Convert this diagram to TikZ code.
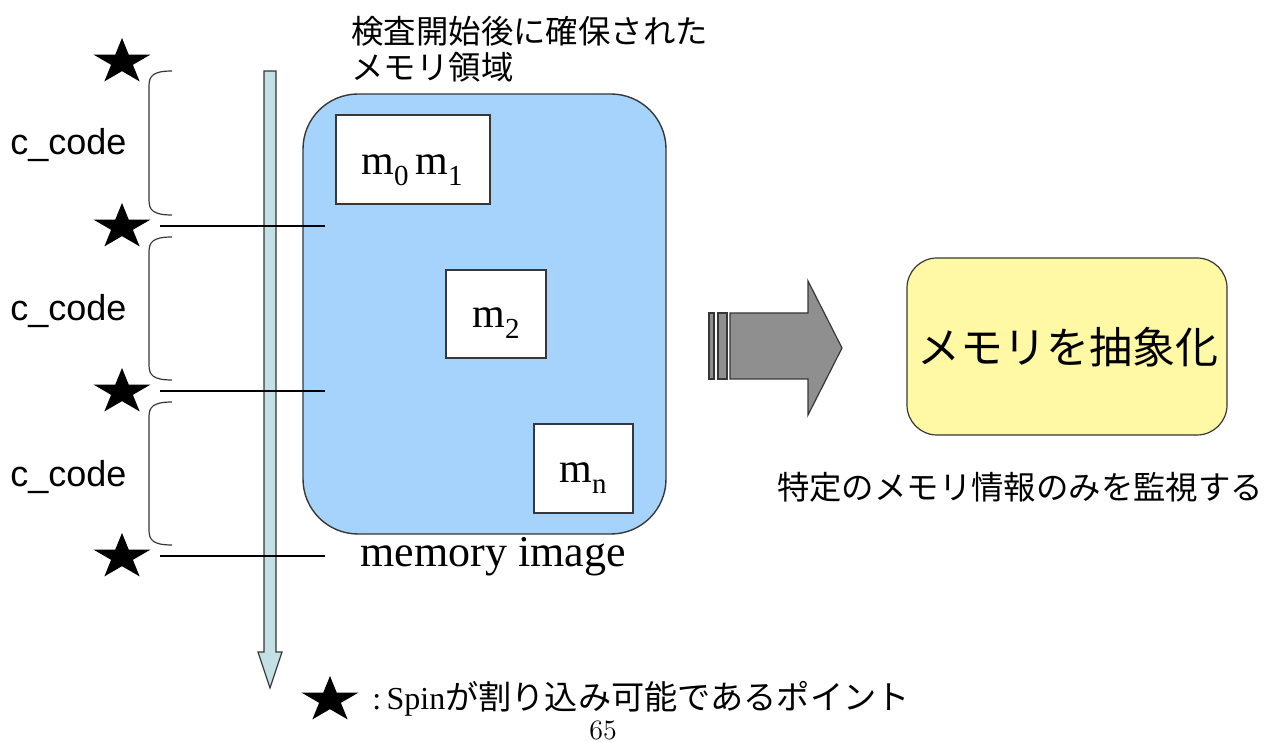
\documentclass[tikz,border=0pt]{standalone}
\usepackage{fontspec}
\newfontfamily\tnr{Liberation Serif}
\newfontfamily\sansf{Liberation Sans}
\newfontfamily\jp{Noto Sans CJK JP}

\definecolor{memblue}{RGB}{166,211,252}
\definecolor{timecyan}{RGB}{195,224,228}
\definecolor{flowgray}{RGB}{143,143,143}
\definecolor{notepad}{RGB}{255,249,166}
\definecolor{edgegray}{RGB}{55,55,55}

\newcommand{\msub}[1]{m\raisebox{-0.26em}{\fontsize{14.5}{14.5}\selectfont #1}}

\tikzset{
  spinstar/.pic={
    \fill[black] (0,-24) -- (6.74,-7.42) -- (28.53,-7.42) -- (10.90,2.83)
      -- (17.63,19.42) -- (0,9.17) -- (-17.63,19.42) -- (-10.90,2.83)
      -- (-28.53,-7.42) -- (-6.74,-7.42) -- cycle;
  },
  codebrace/.style={draw=edgegray, line width=0.6pt},
  codelabel/.style={anchor=base west, inner sep=0pt, font=\sansf\fontsize{18}{18}\selectfont},
  region/.style={draw=edgegray, line width=0.7pt, fill=memblue, rounded corners=27.5pt,
    minimum width=181.5pt, minimum height=220pt, inner sep=0pt},
  cellbox/.style={draw=edgegray, line width=0.6pt, fill=white, inner sep=0pt},
  celltext/.style={anchor=base, inner sep=0pt, font=\tnr\fontsize{21}{21}\selectfont},
  jptext/.style={inner sep=0pt, font=\jp\fontsize{16.2}{18}\selectfont},
  cutline/.style={draw=black, line width=0.6pt},
}

\begin{document}
\begin{tikzpicture}[x=0.5pt, y=-0.5pt]
\useasboundingbox (0,0) rectangle (1284,742);

% time axis
\filldraw[fill=timecyan, draw=edgegray, line width=0.6pt]
  (264,71) -- (276,71) -- (276,652) -- (282,652) -- (270,688) -- (258,652) -- (264,652) -- cycle;

% heading above the memory region
\node[jptext, anchor=north west, align=left] (title) at (351,16)
  {検査開始後に確保された\\メモリ領域};

% memory region and its cells
\node[region] (mem) at (484.5,314) {};
\node[cellbox, minimum width=77pt, minimum height=44.5pt] (c01) at (413,159.5) {};
\node[cellbox, minimum width=50pt, minimum height=44pt] (c2) at (496,314) {};
\node[cellbox, minimum width=49.5pt, minimum height=44.5pt] (cn) at (583.5,468.5) {};
\node[celltext] (t01) at (412,175) {\msub{0}\,\msub{1}};
\node[celltext] (t2) at (496,328) {\msub{2}};
\node[celltext] (tn) at (583,483) {\msub{n}};
\node[anchor=base, inner sep=0pt, font=\tnr\fontsize{22}{22}\selectfont] (memlabel) at (493,567) {memory image};

% interruption points
\pic at (122,62) {spinstar};
\pic at (122,227) {spinstar};
\pic at (122,392) {spinstar};
\pic at (122,557) {spinstar};

% code segments between the points
\draw[codebrace] (172,71) .. controls (153,71) and (149,76) .. (149,86) -- (149,200) .. controls (149,210) and (153,215) .. (172,215);
\draw[codebrace] (172,237) .. controls (153,237) and (149,242) .. (149,252) -- (149,365) .. controls (149,375) and (153,380) .. (172,380);
\draw[codebrace] (172,402) .. controls (153,402) and (149,407) .. (149,417) -- (149,530) .. controls (149,540) and (153,545) .. (172,545);
\node[codelabel] (code1) at (10,155) {c\_code};
\node[codelabel] (code2) at (10,321) {c\_code};
\node[codelabel] (code3) at (10,487) {c\_code};

% cut lines from each point into the memory region
\coordinate (p1) at (160,226); \coordinate (q1) at (325,226);
\coordinate (p2) at (160,391); \coordinate (q2) at (325,391);
\coordinate (p3) at (160,556); \coordinate (q3) at (325,556);
\draw[cutline] (p1) -- (q1);
\draw[cutline] (p2) -- (q2);
\draw[cutline] (p3) -- (q3);

% abstraction arrow
\filldraw[fill=flowgray, draw=edgegray, line width=0.6pt] (709,313) rectangle (714,379);
\filldraw[fill=flowgray, draw=edgegray, line width=0.6pt] (718,313) rectangle (727,379);
\filldraw[fill=flowgray, draw=edgegray, line width=0.6pt]
  (730,313) -- (808,313) -- (808,281) -- (842,348) -- (808,415) -- (808,379) -- (730,379) -- cycle;

% abstraction result
\node[draw=edgegray, line width=0.6pt, fill=notepad, rounded corners=15pt,
  minimum width=160pt, minimum height=88.5pt, inner sep=0pt] (abs) at (1067,346.5) {};
\node[inner sep=0pt, font=\jp\fontsize{21.5}{21.5}\selectfont] (abstext) at (1068,347) {メモリを抽象化};
\node[jptext] (watch) at (1020,487) {特定のメモリ情報のみを監視する};

% legend
\pic at (330,700) {spinstar};
\node[anchor=west, inner sep=0pt] (legend) at (372,699)
  {{\tnr\fontsize{16}{16}\selectfont :\,Spin}{\jp\fontsize{16.6}{18}\selectfont が割り込み可能であるポイント}};

% page number
\node[inner sep=0pt, font=\fontsize{14}{14}\selectfont] (page) at (603,730) {65};
\end{tikzpicture}
\end{document}
